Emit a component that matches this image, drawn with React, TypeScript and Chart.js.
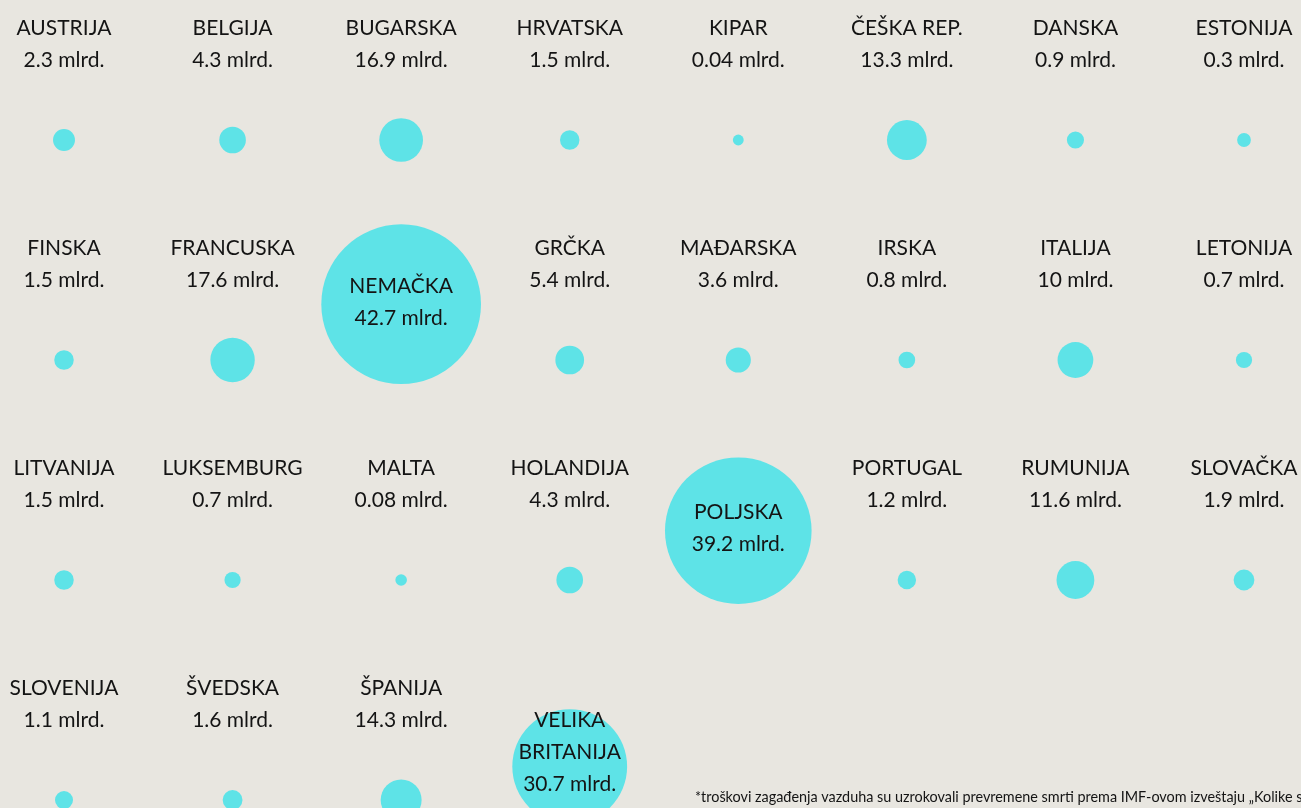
import React, { useEffect, useRef } from "react";
import { Chart, registerables } from "chart.js";

Chart.register(...registerables);

// ---- data ----
const COUNTRIES = [
  "AUSTRIJA", "BELGIJA", "BUGARSKA", "HRVATSKA", "KIPAR", "ČEŠKA REP.", "DANSKA", "ESTONIJA",
  "FINSKA", "FRANCUSKA", "NEMAČKA", "GRČKA", "MAĐARSKA", "IRSKA", "ITALIJA", "LETONIJA",
  "LITVANIJA", "LUKSEMBURG", "MALTA", "HOLANDIJA", "POLJSKA", "PORTUGAL", "RUMUNIJA", "SLOVAČKA",
  "SLOVENIJA", "ŠVEDSKA", "ŠPANIJA", "VELIKA BRITANIJA",
];
const COSTS = [
  2.3, 4.3, 16.9, 1.5, 0.04, 13.3, 0.9, 0.3,
  1.5, 17.6, 42.7, 5.4, 3.6, 0.8, 10, 0.7,
  1.5, 0.7, 0.08, 4.3, 39.2, 1.2, 11.6, 1.9,
  1.1, 1.6, 14.3, 30.7,
];
const UNIT = "mlrd.";
const FOOTNOTE =
  "*troškovi zagađenja vazduha su uzrokovali prevremene smrti prema IMF-ovom izveštaju „Kolike s";

// ---- layout / style ----
const W = 1301;
const H = 808;
const COLS = 8;
const BG = "#e8e6e0";
const BUBBLE = "#5ee3e7";
const TEXT = "#141414";
const FONT = "Lato, 'Open Sans', sans-serif";
const FONT_SIZE = 21;
const LINE_H = 32;
const BIG = 25; // values above this hold their label inside the bubble

const radiusFor = (v: number) => (v > BIG ? 1.87 * v : 4.6 + 4.2 * Math.sqrt(v));

export default function App() {
  const ref = useRef<HTMLCanvasElement | null>(null);

  useEffect(() => {
    document.body.style.margin = "0";
    document.body.style.background = BG;
    document.body.style.overflow = "hidden";
    const canvas = ref.current;
    if (!canvas) return;

    const rowPx = 220;
    const points = COSTS.map((v, i) => {
      const col = i % COLS;
      const row = Math.floor(i / COLS);
      const r = radiusFor(v);
      const y = v > BIG ? row - (r - 24) / rowPx : row;
      return { x: col, y, r, row, v, name: COUNTRIES[i] };
    });

    const labelPlugin = {
      id: "labels",
      beforeDraw(chart: any) {
        const { ctx } = chart;
        ctx.save();
        ctx.fillStyle = BG;
        ctx.fillRect(0, 0, chart.width, chart.height);
        ctx.restore();
      },
      afterDatasetsDraw(chart: any) {
        const { ctx } = chart;
        const ys = chart.scales.y;
        const meta = chart.getDatasetMeta(0);
        ctx.save();
        ctx.fillStyle = TEXT;
        ctx.textAlign = "center";
        ctx.textBaseline = "middle";
        ctx.font = `400 ${FONT_SIZE}px ${FONT}`;
        meta.data.forEach((el: any, i: number) => {
          const p = points[i];
          const valueText = `${p.v} ${UNIT}`;
          if (p.v > BIG) {
            const words = p.name.split(" ");
            const lines: string[] = [];
            let cur = "";
            words.forEach((w) => {
              const t = cur ? cur + " " + w : w;
              if (ctx.measureText(t).width > p.r * 1.7 && cur) {
                lines.push(cur);
                cur = w;
              } else cur = t;
            });
            if (cur) lines.push(cur);
            lines.push(valueText);
            const n = lines.length;
            const center = el.y - 2 - (n - 2) * 12;
            lines.forEach((ln, k) => {
              ctx.fillText(ln, el.x, center + (k - (n - 1) / 2) * LINE_H);
            });
          } else {
            const base = ys.getPixelForValue(p.row);
            ctx.fillText(p.name, el.x, base - 112);
            ctx.fillText(valueText, el.x, base - 112 + LINE_H);
          }
        });
        ctx.font = `400 14.4px ${FONT}`;
        ctx.textAlign = "left";
        ctx.fillText(FOOTNOTE, 695, 797);
        ctx.restore();
      },
    };

    const colPx = (1244 - 64) / 7;
    const chart = new Chart(canvas, {
      type: "bubble",
      data: {
        datasets: [
          {
            data: points.map((p) => ({ x: p.x, y: p.y, r: p.r })),
            backgroundColor: BUBBLE,
            borderWidth: 0,
            hoverBorderWidth: 0,
            hoverRadius: 0,
            clip: false,
          } as any,
        ],
      },
      options: {
        responsive: false,
        maintainAspectRatio: false,
        devicePixelRatio: 1,
        animation: false,
        events: [],
        layout: { padding: 0, autoPadding: false },
        scales: {
          x: { type: "linear", display: false, min: -64 / colPx, max: 7 + (W - 1244) / colPx },
          y: { type: "linear", display: false, reverse: true, min: -140 / rowPx, max: (H - 140) / rowPx },
        },
        plugins: { legend: { display: false }, tooltip: { enabled: false } },
      },
      plugins: [labelPlugin],
    });
    return () => chart.destroy();
  }, []);

  return <canvas ref={ref} width={W} height={H} style={{ display: "block" }} />;
}
